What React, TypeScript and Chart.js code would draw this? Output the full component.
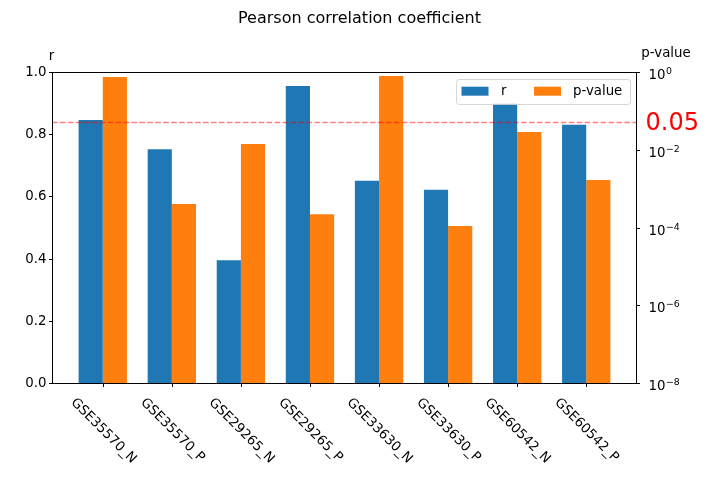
import React, { useEffect, useRef } from 'react';
import { Chart, registerables } from 'chart.js';

Chart.register(...registerables);

const categories = ['GSE35570_N', 'GSE35570_P', 'GSE29265_N', 'GSE29265_P', 'GSE33630_N', 'GSE33630_P', 'GSE60542_N', 'GSE60542_P'];
const rValues = [0.846, 0.752, 0.395, 0.955, 0.65, 0.621, 0.899, 0.83];
const pValues = [0.74, 4.0e-4, 0.0141, 2.2e-4, 0.79, 1.09e-4, 0.0286, 1.67e-3];
const rTicks = [0, 0.2, 0.4, 0.6, 0.8, 1.0];
const pTickExps = [0, -2, -4, -6, -8];
const threshold = 0.05;
const thresholdLabel = '0.05';
const seriesLabels = ['r', 'p-value'];
const seriesColors = ['#1f77b4', '#ff7f0e'];
const titleText = 'Pearson correlation coefficient';
const leftAxisTitle = 'r';
const rightAxisTitle = 'p-value';

const FONT = '"DejaVu Sans", sans-serif';

function roundRectPath(ctx: CanvasRenderingContext2D, x: number, y: number, w: number, h: number, r: number) {
  ctx.beginPath();
  ctx.moveTo(x + r, y);
  ctx.lineTo(x + w - r, y);
  ctx.quadraticCurveTo(x + w, y, x + w, y + r);
  ctx.lineTo(x + w, y + h - r);
  ctx.quadraticCurveTo(x + w, y + h, x + w - r, y + h);
  ctx.lineTo(x + r, y + h);
  ctx.quadraticCurveTo(x, y + h, x, y + h - r);
  ctx.lineTo(x, y + r);
  ctx.quadraticCurveTo(x, y, x + r, y);
  ctx.closePath();
}

const customPlugin = {
  id: 'customDecor',
  afterDatasetsDraw(chart: any) {
    const ctx: CanvasRenderingContext2D = chart.ctx;
    const { left, right, top, bottom } = chart.chartArea;
    const xs = chart.scales.x;
    const ys = chart.scales.y;
    const ys1 = chart.scales.y1;
    ctx.save();

    // threshold dashed line
    const ty = ys1.getPixelForValue(threshold);
    ctx.strokeStyle = 'rgba(255,0,0,0.5)';
    ctx.lineWidth = 1.5;
    ctx.setLineDash([5.55, 2.4]);
    ctx.beginPath();
    ctx.moveTo(left, ty);
    ctx.lineTo(right, ty);
    ctx.stroke();
    ctx.setLineDash([]);

    // frame
    const L = Math.round(left) + 0.5;
    const R = Math.round(right) - 0.5;
    const T = Math.round(top) + 0.5;
    const B = Math.round(bottom) + 0.5;
    ctx.strokeStyle = '#000';
    ctx.lineWidth = 1;
    ctx.strokeRect(L, T, R - L, B - T);

    ctx.fillStyle = '#000';
    const tickFont = `13.33px ${FONT}`;

    // left ticks
    ctx.font = tickFont;
    ctx.textAlign = 'right';
    ctx.textBaseline = 'middle';
    rTicks.forEach((v) => {
      const py = Math.round(ys.getPixelForValue(v)) + 0.5;
      ctx.beginPath();
      ctx.moveTo(L - 3.5, py);
      ctx.lineTo(L, py);
      ctx.stroke();
      ctx.fillText(v.toFixed(1), L - 6, py);
    });

    // right log ticks
    ctx.textAlign = 'left';
    ctx.textBaseline = 'alphabetic';
    pTickExps.forEach((e) => {
      const py = Math.round(ys1.getPixelForValue(Math.pow(10, e))) + 0.5;
      ctx.beginPath();
      ctx.moveTo(R, py);
      ctx.lineTo(R + 3.5, py);
      ctx.stroke();
      const tx = R + 12;
      ctx.font = tickFont;
      ctx.fillText('10', tx, py + 6.5);
      const w10 = ctx.measureText('10').width;
      ctx.font = `9.4px ${FONT}`;
      const expText = e < 0 ? '\u2212' + Math.abs(e) : String(e);
      ctx.fillText(expText, tx + w10 + 0.5, py + 1.8);
    });

    // x ticks and rotated labels
    ctx.font = tickFont;
    categories.forEach((c, i) => {
      const px = Math.round(xs.getPixelForValue(i)) + 0.5;
      ctx.beginPath();
      ctx.moveTo(px, B);
      ctx.lineTo(px, B + 3.5);
      ctx.stroke();
      const w = ctx.measureText(c).width;
      const half = ((w + 15.5) * Math.SQRT1_2) / 2;
      const cy = B + 11.5 + half;
      ctx.save();
      ctx.translate(px, cy);
      ctx.rotate(Math.PI / 4);
      ctx.textAlign = 'center';
      ctx.textBaseline = 'middle';
      ctx.fillText(c, 0, 0);
      ctx.restore();
    });

    // title
    ctx.font = `16px ${FONT}`;
    ctx.textAlign = 'center';
    ctx.textBaseline = 'middle';
    ctx.fillText(titleText, chart.width / 2, 19);

    // axis titles
    ctx.font = tickFont;
    ctx.textBaseline = 'alphabetic';
    ctx.textAlign = 'center';
    ctx.fillText(leftAxisTitle, left - 0.5, 59.5);
    ctx.fillText(rightAxisTitle, right + 29, 57);

    // threshold label
    ctx.fillStyle = '#ff0000';
    ctx.font = `24px ${FONT}`;
    ctx.textAlign = 'left';
    ctx.fillText(thresholdLabel, right + 8.5, ty + 7.5);

    // legend
    const bx = right - 180.5;
    const by = top + 7.5;
    const bw = 174;
    const bh = 25;
    roundRectPath(ctx, bx, by, bw, bh, 3);
    ctx.fillStyle = 'rgba(255,255,255,0.8)';
    ctx.fill();
    ctx.strokeStyle = 'rgba(204,204,204,0.8)';
    ctx.lineWidth = 1;
    ctx.stroke();
    const handleY = by + 7.2;
    const entries = [
      { hx: bx + 5, tx: bx + 44.5 },
      { hx: bx + 77.5, tx: bx + 116.5 },
    ];
    ctx.font = tickFont;
    ctx.textBaseline = 'middle';
    ctx.textAlign = 'left';
    entries.forEach((en, i) => {
      ctx.fillStyle = seriesColors[i];
      ctx.fillRect(en.hx, handleY, 27, 9);
      ctx.fillStyle = '#000';
      ctx.fillText(seriesLabels[i], en.tx, by + 12);
    });

    ctx.restore();
  },
};

export default function App() {
  const ref = useRef<HTMLCanvasElement>(null);
  useEffect(() => {
    const canvas = ref.current;
    if (!canvas) return;
    const chart = new Chart(canvas, {
      type: 'bar',
      data: {
        datasets: [
          {
            label: seriesLabels[0],
            data: rValues.map((v, i) => ({ x: i, y: v })),
            backgroundColor: seriesColors[0],
            borderWidth: 0,
            yAxisID: 'y',
            categoryPercentage: 0.7,
            barPercentage: 1.0,
          } as any,
          {
            label: seriesLabels[1],
            data: pValues.map((v, i) => ({ x: i, y: v })),
            backgroundColor: seriesColors[1],
            borderWidth: 0,
            yAxisID: 'y1',
            categoryPercentage: 0.7,
            barPercentage: 1.0,
          } as any,
        ],
      },
      options: {
        animation: false,
        responsive: false,
        devicePixelRatio: 1,
        layout: { padding: { top: 72, left: 0, right: 0, bottom: 0 } },
        plugins: {
          legend: { display: false },
          title: { display: false },
          tooltip: { enabled: false },
        },
        events: [],
        scales: {
          x: {
            type: 'linear',
            min: -0.735,
            max: 7.735,
            offset: false,
            grid: { display: false, offset: false },
            border: { display: false },
            ticks: { display: false },
            afterFit: (s: any) => {
              s.height = 95;
            },
          },
          y: {
            type: 'linear',
            position: 'left',
            min: 0,
            max: 1,
            grid: { display: false },
            border: { display: false },
            ticks: { display: false },
            afterFit: (s: any) => {
              s.width = 52;
            },
          },
          y1: {
            type: 'logarithmic',
            position: 'right',
            min: 1e-8,
            max: 1,
            grid: { display: false },
            border: { display: false },
            ticks: { display: false },
            afterFit: (s: any) => {
              s.width = 82;
            },
          },
        } as any,
      },
      plugins: [customPlugin],
    });
    return () => chart.destroy();
  }, []);
  return (
    <div style={{ position: 'fixed', left: 0, top: 0, width: 719, height: 478, background: '#fff' }}>
      <canvas ref={ref} width={719} height={478} style={{ display: 'block', width: 719, height: 478 }} />
    </div>
  );
}
